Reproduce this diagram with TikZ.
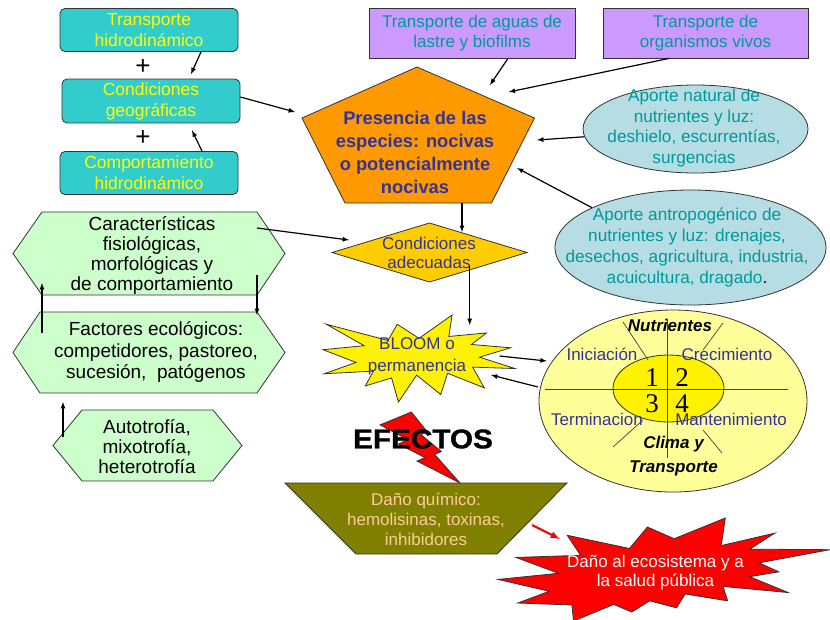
\documentclass[tikz,border=0pt]{standalone}
\usepackage{fontspec}
\setmainfont{Liberation Sans}
\newfontfamily\numfont{Liberation Serif}
\newfontfamily\efont[FakeStretch=1.1,FakeBold=1.2]{Liberation Sans}
\usetikzlibrary{shapes.geometric}
\definecolor{turquesa}{RGB}{51,204,204}
\definecolor{amarillo}{RGB}{255,255,0}
\definecolor{lila}{RGB}{204,153,255}
\definecolor{verdeazul}{RGB}{0,153,153}
\definecolor{naranja}{RGB}{255,153,0}
\definecolor{azulosc}{RGB}{51,51,153}
\definecolor{celeste}{RGB}{183,221,228}
\definecolor{oro}{RGB}{255,204,0}
\definecolor{crema}{RGB}{255,255,153}
\definecolor{oliva}{RGB}{128,128,0}
\definecolor{salmon}{RGB}{255,204,153}
\definecolor{menta}{RGB}{204,255,204}

\begin{document}
\begin{tikzpicture}[x=1pt, y=-1pt,
  every node/.style={align=center, font=\fontsize{17}{20.5}\selectfont},
  borde/.style={draw=black!80, line width=0.8pt},
  caja/.style={rectangle, rounded corners=5pt, borde, fill=turquesa, text=amarillo, minimum width=178pt, minimum height=43pt, font=\fontsize{17.5}{21}\selectfont},
  lilabox/.style={rectangle, borde, fill=lila, text=verdeazul, minimum width=206pt, minimum height=50pt, font=\fontsize{17}{20}\selectfont},
  nube/.style={ellipse, borde, fill=celeste},
  hexa/.style={borde, fill=menta},
  mas/.style={font=\fontsize{26}{28}\selectfont},
  negrita/.style={font=\fontsize{17}{24}\selectfont\bfseries\itshape},
  num/.style={font=\fontsize{27}{28}\numfont},
  linea/.style={draw=black!75, line width=0.7pt},
  flecha/.style={-latex, line width=1.2pt}]
\path[use as bounding box, fill=white] (0,0) rectangle (830,619);

% cajas de transporte
\node (th) [caja] at (149,30) {Transporte\\hidrodinámico};
\node (cg) [caja] at (151,101) {Condiciones\\geográficas};
\node (ch) [caja] at (149,173) {Comportamiento\\hidrodinámico};
\node (masA) [mas] at (143,67) {+};
\node (masB) [mas] at (143,138) {+};
\node (pa) [lilabox] at (472,33) {Transporte de aguas de\\lastre y biofilms};
\node (po) [lilabox, minimum width=205pt] at (705.5,33) {Transporte de\\organismos vivos};

% presencia
\draw[borde, fill=naranja] (417,67) -- (534.5,118) -- (491.5,203) -- (345,203) -- (302,118) -- cycle;
\node (pres) [text=azulosc, font=\fontsize{18.3}{23}\selectfont\bfseries] at (415,152) {Presencia de las\\especies: nocivas\\o potencialmente\\nocivas};

% aportes
\node (nat) [nube, minimum width=225pt, minimum height=88pt] at (695.5,129) {};
\node (natT) [text=verdeazul, font=\fontsize{17.2}{20.5}\selectfont] at (694,128) {Aporte natural de\\nutrientes y luz:\\deshielo, escurrentías,\\surgencias};
\node (ant) [nube, minimum width=271pt, minimum height=115pt] at (690.5,247.5) {};
\node (antT) [text=verdeazul, font=\fontsize{17.2}{21}\selectfont] at (687,247) {Aporte antropogénico de\\nutrientes y luz: drenajes,\\desechos, agricultura, industria,\\acuicultura, dragado{\color{black}.}};

% condiciones adecuadas
\draw[borde, fill=oro] (332,252.5) -- (429.5,223) -- (527,252.5) -- (429.5,282) -- cycle;
\node (cond) [text=azulosc, font=\fontsize{17}{19}\selectfont] at (429,253) {Condiciones\\adecuadas};

% hexagonos
\draw[hexa] (13,253.5) -- (42,212) -- (257,212) -- (285,253.5) -- (257,295) -- (42,295) -- cycle;
\node (carac) [font=\fontsize{19}{20}\selectfont] at (152,255) {Características\\fisiológicas,\\morfológicas y\\de comportamiento};
\draw[hexa] (13,352.5) -- (40,312) -- (257,312) -- (285,352.5) -- (257,393) -- (40,393) -- cycle;
\node (fact) [font=\fontsize{19}{21.5}\selectfont] at (156,352) {Factores ecológicos:\\competidores, pastoreo,\\sucesión,\ \ patógenos};
\draw[hexa] (53,445.5) -- (82,410) -- (213,410) -- (242,445.5) -- (213,481) -- (82,481) -- cycle;
\node (auto) [font=\fontsize{19}{20}\selectfont] at (147,447) {Autotrofía,\\mixotrofía,\\heterotrofía};

% bloom
\begin{scope}[shift={(323,315)}, x=0.8889pt, y=-0.4028pt]
  \draw[borde, fill=yellow] (108,58) -- (145.22,0) -- (141.55,53.25) -- (183.8,44.57) -- (167.02,73.15)
    -- (210.97,81.37) -- (176.07,104.75) -- (216,132.9) -- (168.37,129.42) -- (181.45,180.95)
    -- (140.2,144.57) -- (132.47,197.37) -- (105.32,149.35) -- (84.85,216) -- (77.15,156.27)
    -- (47.62,176.17) -- (56.67,139.37) -- (1.35,145.87) -- (37.22,117.75) -- (0,86.15)
    -- (46.27,76.17) -- (3.7,22.95) -- (73.12,63.2) -- (83.52,22.95) -- cycle;
\end{scope}
\node (bloom) [text=azulosc, font=\fontsize{17}{22}\selectfont] at (417,356) {BLOOM o\\permanencia};

% ciclo
\node (ciclo) [ellipse, borde, fill=crema, minimum width=268pt, minimum height=182pt] at (673,401) {};
\node (fases) [ellipse, borde, fill=yellow, minimum width=111pt, minimum height=67pt] at (668.5,388.5) {};
\draw[linea] (545,389) -- (788,389);
\draw[linea] (667,320) -- (667,458);
\draw[linea] (623,322) -- (648,360);
\draw[linea] (723,323) -- (703,350);
\draw[linea] (613,447) -- (643,420);
\draw[linea] (722,453) -- (703,430);
\node (nutr) [negrita] at (670,325) {Nutrientes};
\node (ini) [text=azulosc] at (602,354) {Iniciación};
\node (cre) [text=azulosc] at (727,354) {Crecimiento};
\node (ter) [text=azulosc] at (597,419) {Terminacion};
\node (man) [text=azulosc] at (731,419) {Mantenimiento};
\node (clima) [negrita] at (673.5,456) {Clima y\\Transporte};
\node (uno) [num] at (652,378) {1};
\node (dos) [num] at (682,378) {2};
\node (tres) [num] at (652,404) {3};
\node (cuatro) [num] at (682,404) {4};

% efectos
\begin{scope}[shift={(380,412)}, x=0.3704pt, y=-0.3287pt]
  \draw[borde, fill=red] (84.58,0) -- (0,39.23) -- (75.64,84.16) -- (49.93,97.2) -- (121.97,139.04)
    -- (99.87,149.34) -- (216,216) -- (147.68,129.11) -- (165.58,120.16) -- (110.3,68.4)
    -- (128.31,61.2) -- cycle;
\end{scope}
\node (efectos) [font=\fontsize{27}{30}\efont\bfseries] at (423,439) {EFECTOS};
\draw[borde, fill=oliva] (285,483) -- (567,483) -- (497,554) -- (356,554) -- cycle;
\node (dano) [text=salmon, font=\fontsize{17}{20}\selectfont] at (426,519) {Daño químico:\\hemolisinas, toxinas,\\inhibidores};
\begin{scope}[shift={(498,518)}, x=1.537pt, y=-0.4769pt]
  \draw[borde, fill=red] (114.62,43.42) -- (147.9,0) -- (145.25,57.77) -- (180.07,31.72) -- (163.8,65.32)
    -- (216,66.45) -- (169.85,94.02) -- (182.7,112.9) -- (163.8,123.1) -- (188.77,156.32)
    -- (146.4,143.5) -- (149.42,173.7) -- (121.8,159.35) -- (116.12,188.42) -- (98.72,173.7)
    -- (87,197.12) -- (75.27,181.25) -- (49.17,216) -- (48.05,182.4) -- (12.85,178.25)
    -- (33.3,153.7) -- (0,128.77) -- (39.35,115.92) -- (11.72,82.7) -- (53.72,78.17)
    -- (45.02,36.25) -- (85.5,63.82) -- (97.22,18.87) -- cycle;
\end{scope}
\node (eco) [text=white, font=\fontsize{17}{19}\selectfont] at (655.5,572.5) {Daño al ecosistema y a\\la salud pública};

% puntos de llegada
\coordinate (presIzq) at (295,112);
\coordinate (presA) at (490,85);
\coordinate (presB) at (508.7,92);
\coordinate (presC) at (537,140);
\coordinate (presD) at (517,168);
\coordinate (presBase) at (462,203);
\coordinate (condTop) at (462,232);
\coordinate (condIzq) at (349,240);
\coordinate (condBase) at (469.7,266);
\coordinate (bloomTop) at (469.7,325);
\coordinate (bloomDer) at (499.5,356);
\coordinate (bloomDer2) at (491,375);
\coordinate (cicloIzq) at (546.8,361);
\coordinate (cicloIzq2) at (538,387);
\coordinate (caracDer) at (257,228);
\coordinate (caracInf) at (42,283);
\coordinate (caracB) at (257,275);
\coordinate (factSup) at (42,333);
\coordinate (factB) at (257,315);
\coordinate (factInf) at (63,402);
\coordinate (autoSup) at (63,437);
\coordinate (danoDer) at (532,525);
\coordinate (ecoIzq) at (560,539);

% flechas
\draw[flecha] ([xshift=52pt]th.south) -- ([xshift=40pt,yshift=4.5pt]cg.north);
\draw[flecha] ([xshift=53pt]ch.north) -- ([xshift=41pt,yshift=-7pt]cg.south);
\draw[flecha] ([yshift=4pt]cg.east) -- (presIzq);
\draw[flecha] ([xshift=36pt]pa.south) -- (presA);
\draw[flecha] ([xshift=-36.5pt]po.south) -- (presB);
\draw[flecha] (nat.184) -- (presC);
\draw[flecha] (ant.158) -- (presD);
\draw[flecha] (presBase) -- (condTop);
\draw[flecha] (caracDer) -- (condIzq);
\draw[flecha] (condBase) -- (bloomTop);
\draw[flecha] (bloomDer) -- (cicloIzq);
\draw[flecha] (cicloIzq2) -- (bloomDer2);
\draw[flecha] (factSup) -- (caracInf);
\draw[flecha] (caracB) -- (factB);
\draw[flecha] (autoSup) -- (factInf);
\draw[flecha, red, line width=2.2pt] (danoDer) -- (ecoIzq);
\end{tikzpicture}
\end{document}
